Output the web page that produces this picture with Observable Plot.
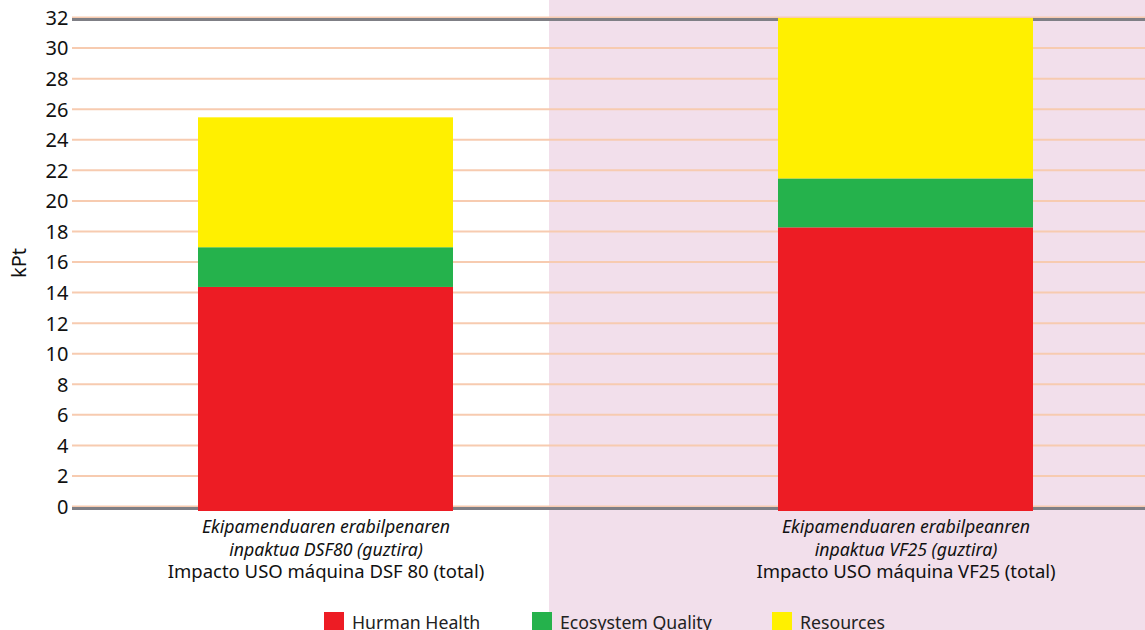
<!DOCTYPE html>
<html><head><meta charset="utf-8">
<script src="https://cdn.jsdelivr.net/npm/d3@7"></script>
<script src="https://cdn.jsdelivr.net/npm/@observablehq/plot@0.6"></script>
<style>
html,body{margin:0;padding:0;}
body{width:1145px;height:630px;overflow:hidden;background:linear-gradient(to right,#ffffff 0,#ffffff 549px,#f2dfeb 549px,#f2dfeb 100%);font-family:"Noto Sans",sans-serif;}
#chart svg{display:block;}
#legend{margin-top:10px;}
#legend .lg-swatches{margin:0 !important;padding-left:324px;font-size:17.7px;font-family:"Noto Sans",sans-serif;color:#222;min-height:0 !important;}
#legend .lg-swatch{margin-right:0 !important;}
#legend span.lg-swatch:nth-of-type(1){width:208px;}
#legend span.lg-swatch:nth-of-type(2){width:240px;}
#legend .lg-swatch svg{margin-right:8px !important;}
</style></head><body><div id="chart"></div><div id="legend"></div>
<script>
const categories = ["DSF80", "VF25"];
const italicLabels = ["Ekipamenduaren erabilpenaren\ninpaktua DSF80 (guztira)", "Ekipamenduaren erabilpeanren\ninpaktua VF25 (guztira)"];
const plainLabels = ["Impacto USO máquina DSF 80 (total)", "Impacto USO máquina VF25 (total)"];
const series = ["Hurman Health", "Ecosystem Quality", "Resources"];
const colors = ["#ed1c24", "#25b24c", "#fff000"];
const humanHealth = [14.4, 18.3];
const ecosystemQuality = [2.6, 3.2];
const resources = [8.5, 10.5];
const yTicks = [0, 2, 4, 6, 8, 10, 12, 14, 16, 18, 20, 22, 24, 26, 28, 30, 32];

const valuesBySeries = [humanHealth, ecosystemQuality, resources];
const rows = [];
categories.forEach((c, i) => {
  series.forEach((s, j) => rows.push({category: c, series: s, value: valuesBySeries[j][i]}));
});

const plot = Plot.plot({
  width: 1145, height: 600,
  marginTop: 18, marginBottom: 93, marginLeft: 72, marginRight: 0,
  style: {background: "transparent", fontFamily: "Noto Sans, sans-serif", color: "#111", overflow: "visible"},
  x: {domain: categories, range: [85, 1145], paddingInner: 0.561, paddingOuter: 0.193, axis: null},
  y: {domain: [0, 32]},
  color: {domain: series, range: colors},
  marks: [
    Plot.ruleY(yTicks, {stroke: "#f7cbb0", strokeWidth: 2, dy: -1}),
    Plot.ruleY([0, 32], {stroke: "#7f7f85", strokeWidth: 3, dy: 1}),
    Plot.axisY({ticks: yTicks, tickSize: 0, tickPadding: 4, fontSize: 20, label: "kPt", labelAnchor: "center", labelArrow: "none", labelOffset: 61}),
    Plot.barY(rows, {x: "category", y: "value", fill: "series"}),
    Plot.barY(rows.filter(d => d.series === series[0]), {x: "category", y1: 0, y2: 0, fill: "series", insetBottom: -4}),
    Plot.text(categories, {x: d => d, text: (d, i) => italicLabels[i], frameAnchor: "bottom", lineAnchor: "top", dy: 9, lineHeight: 1.3, fontSize: 17.7, fontStyle: "italic", fill: "#111"}),
    Plot.text(categories, {x: d => d, text: (d, i) => plainLabels[i], frameAnchor: "bottom", lineAnchor: "top", dy: 57.5, fontSize: 18.5, fill: "#111"})
  ]
});
document.getElementById("chart").appendChild(plot);

const legend = Plot.legend({color: {domain: series, range: colors}, legend: "swatches", swatchSize: 20, className: "lg"});
document.getElementById("legend").appendChild(legend);
</script>
</body></html>
